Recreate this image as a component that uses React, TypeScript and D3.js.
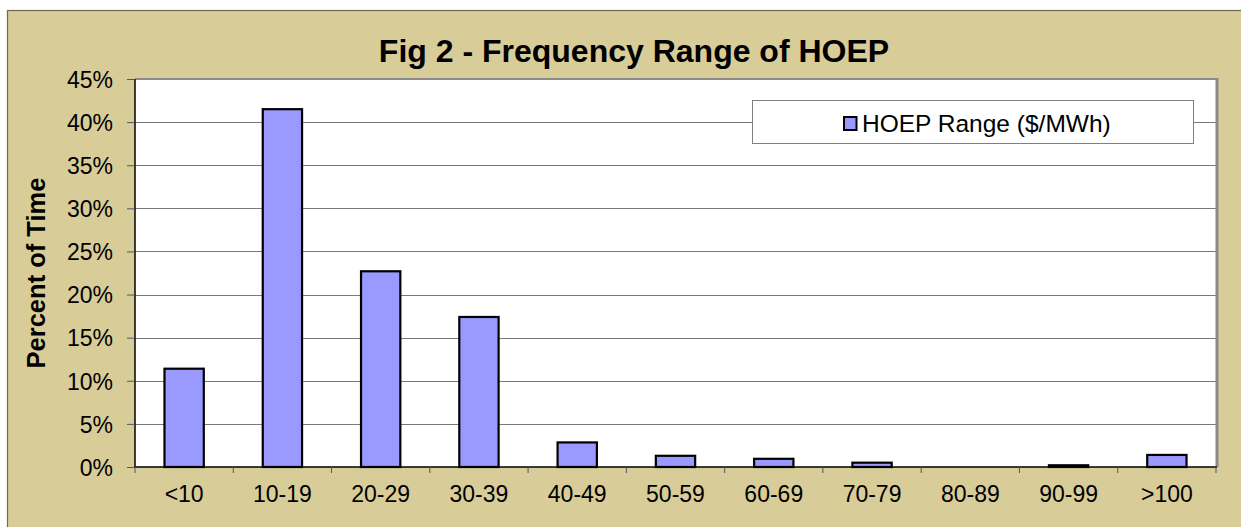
import { useEffect, useRef } from "react";
import * as d3 from "d3";

const categories = ["<10", "10-19", "20-29", "30-39", "40-49", "50-59", "60-69", "70-79", "80-89", "90-99", ">100"];
const percentOfTime = [11.4, 41.5, 22.7, 17.4, 2.85, 1.3, 0.95, 0.5, 0, 0.2, 1.4];
const yTicks = [0, 5, 10, 15, 20, 25, 30, 35, 40, 45];
const seriesName = "HOEP Range ($/MWh)";
const title = "Fig 2 - Frequency Range of HOEP";
const yTitle = "Percent of Time";

const FONT = "'Liberation Sans', Arial, Helvetica, sans-serif";
const BG = "#d8cc99";
const BAR = "#9999ff";

export default function App() {
  const svgRef = useRef<SVGSVGElement | null>(null);

  useEffect(() => {
    if (!svgRef.current) return;
    const svg = d3.select(svgRef.current);
    svg.selectAll("*").remove();

    const width = 1241;
    const height = 527;
    const plot = { left: 135, top: 79, right: 1216, bottom: 467 };

    svg.attr("viewBox", `0 0 ${width} ${height}`);

    // chart area
    svg.append("rect")
      .attr("x", 7.5).attr("y", 10.5)
      .attr("width", width).attr("height", height)
      .attr("fill", BG)
      .attr("stroke", "#6e6a52").attr("stroke-width", 1.2);

    const x = d3.scaleBand<string>()
      .domain(categories)
      .range([plot.left, plot.right])
      .paddingInner(0.6)
      .paddingOuter(0.3);
    const xStep = (plot.right - plot.left) / categories.length;
    const y = d3.scaleLinear().domain([0, 45]).range([plot.bottom, plot.top]);

    // plot area
    svg.append("rect")
      .attr("x", plot.left).attr("y", plot.top)
      .attr("width", plot.right - plot.left).attr("height", plot.bottom - plot.top)
      .attr("fill", "#ffffff");

    // grid
    svg.append("g")
      .selectAll("line")
      .data(yTicks.filter((d) => d > 0 && d < 45))
      .join("line")
      .attr("x1", plot.left).attr("x2", plot.right)
      .attr("y1", (d) => Math.round(y(d)) + 0.5).attr("y2", (d) => Math.round(y(d)) + 0.5)
      .attr("stroke", "#7a7a7a").attr("stroke-width", 1);

    // plot border (top + right shadow)
    svg.append("line")
      .attr("x1", plot.left).attr("x2", plot.right + 2)
      .attr("y1", plot.top).attr("y2", plot.top)
      .attr("stroke", "#8a8a8a").attr("stroke-width", 2);
    svg.append("line")
      .attr("x1", plot.right + 1).attr("x2", plot.right + 1)
      .attr("y1", plot.top - 1).attr("y2", plot.bottom)
      .attr("stroke", "#8a8a8a").attr("stroke-width", 3);

    // legend
    const lg = svg.append("g");
    lg.append("rect")
      .attr("x", 752.5).attr("y", 100.5)
      .attr("width", 441).attr("height", 43)
      .attr("fill", "#ffffff").attr("stroke", "#808080").attr("stroke-width", 1);
    lg.append("rect")
      .attr("x", 844).attr("y", 117)
      .attr("width", 12.5).attr("height", 13)
      .attr("fill", BAR).attr("stroke", "#000").attr("stroke-width", 2);
    lg.append("text")
      .attr("x", 862).attr("y", 132)
      .attr("font-family", FONT).attr("font-size", 24.5)
      .attr("fill", "#000")
      .text(seriesName);

    // bars
    svg.append("g")
      .selectAll("rect")
      .data(percentOfTime)
      .join("rect")
      .attr("x", (_, i) => x(categories[i])!)
      .attr("y", (d) => y(d))
      .attr("width", x.bandwidth())
      .attr("height", (d) => plot.bottom - y(d))
      .attr("fill", BAR)
      .attr("stroke", "#000")
      .attr("stroke-width", 2.2);

    // y axis
    const yAxis = svg.append("g").attr("transform", `translate(${plot.left},0)`);
    yAxis.call(d3.axisLeft(y).tickValues(yTicks).tickSize(8).tickPadding(14).tickFormat((d) => `${d}%`))
      .call((sel) => sel.select(".domain").attr("stroke", "#000").attr("stroke-width", 1.5).attr("d", `M0,${plot.top}V${plot.bottom}`))
      .call((sel) => sel.selectAll(".tick line").attr("stroke", "#555"))
      .call((sel) => sel.selectAll("text")
        .attr("fill", "#000").attr("font-size", 23).attr("font-family", FONT).attr("dy", "0.36em"));

    // x axis
    const xAxis = svg.append("g").attr("transform", `translate(0,${plot.bottom})`);
    xAxis.append("line")
      .attr("x1", plot.left).attr("x2", plot.right + 1)
      .attr("y1", 0).attr("y2", 0)
      .attr("stroke", "#000").attr("stroke-width", 1.5);
    xAxis.selectAll(".xt")
      .data(d3.range(categories.length + 1))
      .join("line")
      .attr("x1", (i) => plot.left + i * xStep).attr("x2", (i) => plot.left + i * xStep)
      .attr("y1", 0).attr("y2", 6)
      .attr("stroke", "#555");
    xAxis.selectAll("text")
      .data(categories)
      .join("text")
      .attr("x", (d) => x(d)! + x.bandwidth() / 2)
      .attr("y", 35)
      .attr("text-anchor", "middle")
      .attr("font-family", FONT).attr("font-size", 23)
      .attr("fill", "#000")
      .text((d) => d);

    // titles
    svg.append("text")
      .attr("x", 634).attr("y", 62)
      .attr("text-anchor", "middle")
      .attr("font-family", FONT).attr("font-size", 32).attr("font-weight", "bold")
      .attr("fill", "#000")
      .text(title);
    svg.append("text")
      .attr("transform", `translate(45,${(plot.top + plot.bottom) / 2}) rotate(-90)`)
      .attr("text-anchor", "middle")
      .attr("font-family", FONT).attr("font-size", 25.5).attr("font-weight", "bold")
      .attr("fill", "#000")
      .text(yTitle);
  }, []);

  return (
    <svg
      ref={svgRef}
      width={1241}
      height={527}
      style={{ position: "absolute", left: 0, top: 0, display: "block" }}
    />
  );
}
